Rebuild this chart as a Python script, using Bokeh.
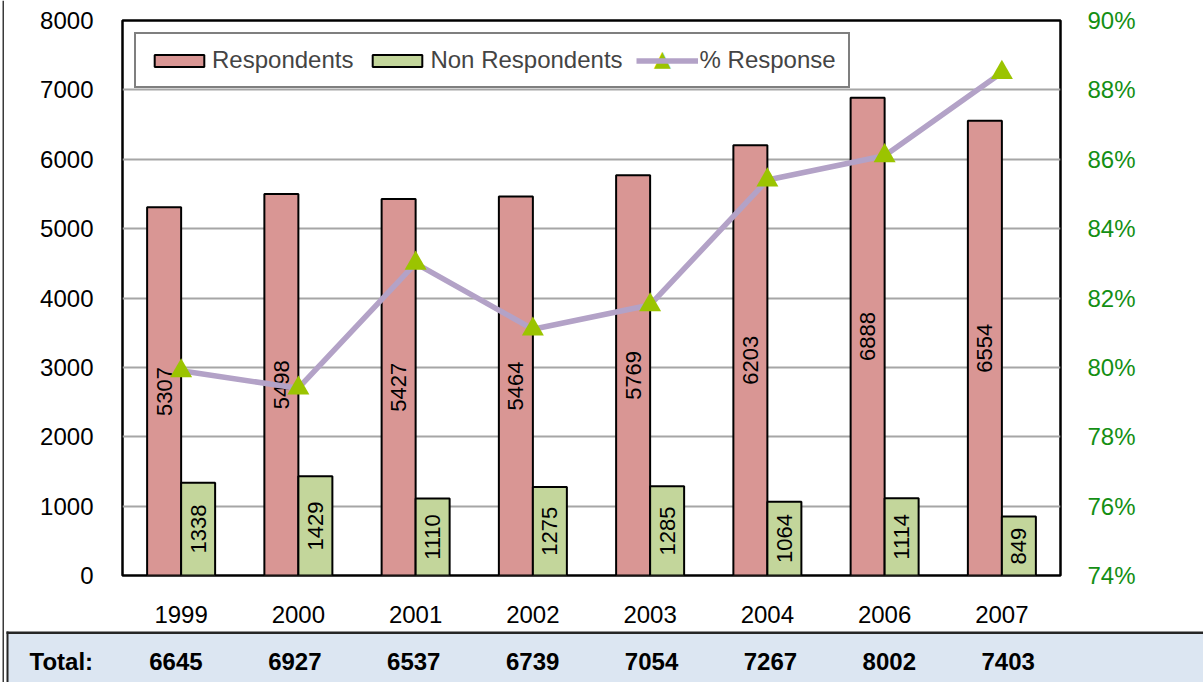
from math import pi

from bokeh.core.properties import value
from bokeh.embed import file_html
from bokeh.layouts import column, row
from bokeh.models import (BoxAnnotation, ColumnDataSource, FixedTicker, Label,
                          Legend, LegendItem, LinearAxis, PrintfTickFormatter,
                          Range1d)
from bokeh.plotting import figure
from bokeh.resources import INLINE

# ---- data -------------------------------------------------------------
years = ["1999", "2000", "2001", "2002", "2003", "2004", "2006", "2007"]
respondents = [5307, 5498, 5427, 5464, 5769, 6203, 6888, 6554]
non_respondents = [1338, 1429, 1110, 1275, 1285, 1064, 1114, 849]
pct_response = [79.9, 79.4, 83.0, 81.1, 81.8, 85.4, 86.1, 88.5]
totals = [6645, 6927, 6537, 6739, 7054, 7267, 8002, 7403]

left_ticks = [0, 1000, 2000, 3000, 4000, 5000, 6000, 7000, 8000]
right_ticks = [74, 76, 78, 80, 82, 84, 86, 88, 90]

# ---- layout / style ---------------------------------------------------
FONT = "Liberation Sans"
W, H = 1203, 682
STRIP_W = 5                      # narrow page-border strip on the left
TABLE_H = 52
CHART_W = W - STRIP_W
CHART_H = H - TABLE_H
FRAME_L, FRAME_R, FRAME_T, FRAME_B = 122, 1060, 20, 575   # page pixels
n = len(years)
unit = (FRAME_R - FRAME_L) / n   # pixels per category
BAR_W = 0.29
OFF = 0.145

PINK = "#D99694"
GREEN = "#C3D69B"
LAVENDER = "#B3A2C7"
MARKER = "#9BC400"
AXIS_GREEN = "#148F14"
TABLE_BG = "#DCE6F2"
RULE = "#262626"


def px_to_x(px):
    """Horizontal page pixel -> x data coordinate of the chart."""
    return (px - FRAME_L) / unit


def py_to_y(py):
    """Vertical page pixel -> left-axis data coordinate."""
    return (FRAME_B - py) / (FRAME_B - FRAME_T) * (left_ticks[-1] - left_ticks[0])


def no_align(fig):
    if hasattr(fig, "frame_align"):
        fig.frame_align = False


centers = [i + 0.5 for i in range(n)]
src = ColumnDataSource(dict(
    xc=centers,
    x_resp=[c - OFF for c in centers],
    x_non=[c + OFF for c in centers],
    resp=respondents,
    non=non_respondents,
    resp_mid=[v / 2 for v in respondents],
    non_mid=[v / 2 for v in non_respondents],
    resp_txt=[str(v) for v in respondents],
    non_txt=[str(v) for v in non_respondents],
    pct=pct_response,
))

# ---- main chart -------------------------------------------------------
p = figure(width=CHART_W, height=CHART_H,
           x_range=Range1d(0, n), y_range=Range1d(left_ticks[0], left_ticks[-1]),
           output_backend="svg", toolbar_location=None,
           min_border_left=FRAME_L - STRIP_W, min_border_right=W - FRAME_R,
           min_border_top=FRAME_T, min_border_bottom=CHART_H - FRAME_B)
no_align(p)
p.background_fill_color = "white"
p.border_fill_color = "white"
p.outline_line_color = "black"
p.outline_line_width = 2.5

p.extra_y_ranges = {"pct": Range1d(right_ticks[0], right_ticks[-1])}

# category axis (years)
xa = p.xaxis[0]
xa.ticker = FixedTicker(ticks=centers)
xa.major_label_overrides = {c: y for c, y in zip(centers, years)}
xa.axis_line_color = None
xa.major_tick_line_color = None
xa.minor_tick_line_color = None
xa.major_label_standoff = 24
xa.major_label_text_font = FONT
xa.major_label_text_font_size = "24px"
xa.major_label_text_color = "black"

# left value axis
ya = p.yaxis[0]
ya.ticker = FixedTicker(ticks=left_ticks)
ya.axis_line_color = None
ya.major_tick_line_color = None
ya.minor_tick_line_color = None
ya.major_label_standoff = 23
ya.major_label_text_font = FONT
ya.major_label_text_font_size = "24px"
ya.major_label_text_color = "black"

# right percentage axis
ra = LinearAxis(y_range_name="pct", ticker=FixedTicker(ticks=right_ticks),
                formatter=PrintfTickFormatter(format="%d%%"))
ra.axis_line_color = None
ra.major_tick_line_color = None
ra.minor_tick_line_color = None
ra.major_label_standoff = 21
ra.major_label_text_font = FONT
ra.major_label_text_font_size = "24px"
ra.major_label_text_color = AXIS_GREEN
p.add_layout(ra, "right")

p.add_layout(Label(x=px_to_x(1166), y=(right_ticks[0] + right_ticks[-1]) / 2,
                   y_range_name="pct", text="% Responding", angle=pi / 2,
                   text_align="center", text_baseline="middle",
                   text_font=FONT, text_font_size="24px", text_color="black"))

p.xgrid.visible = False
p.ygrid.ticker = FixedTicker(ticks=left_ticks)
p.ygrid.grid_line_color = "#A6A6A6"
p.ygrid.grid_line_width = 2

# bars
r_resp = p.vbar(x="x_resp", top="resp", width=BAR_W, source=src,
                fill_color=PINK, line_color="black", line_width=2)
r_non = p.vbar(x="x_non", top="non", width=BAR_W, source=src,
               fill_color=GREEN, line_color="black", line_width=2)

# value labels inside the bars
for xcol, ycol, tcol in (("x_resp", "resp_mid", "resp_txt"),
                         ("x_non", "non_mid", "non_txt")):
    p.text(x=xcol, y=ycol, text=tcol, source=src, angle=pi / 2,
           text_align="center", text_baseline="middle",
           text_font=value(FONT), text_font_size="22px", text_color="black")

# response rate line
r_line = p.line(x="xc", y="pct", source=src, y_range_name="pct",
                line_color=LAVENDER, line_width=5.5)
r_mark = p.scatter(x="xc", y="pct", source=src, y_range_name="pct",
                   marker="triangle", size=22, fill_color=MARKER, line_color=None)

legend = Legend(items=[
    LegendItem(label="Respondents", renderers=[r_resp]),
    LegendItem(label="Non Respondents", renderers=[r_non]),
    LegendItem(label="% Response", renderers=[r_line]),
], orientation="horizontal", location="top_left", margin=12, padding=12,
    spacing=13, label_standoff=2, glyph_width=62, glyph_height=15,
    label_text_font=FONT, label_text_font_size="24px",
    border_line_color="black", border_line_width=2,
    background_fill_alpha=0)
p.add_layout(legend)

# marker drawn on the "% Response" legend swatch
p.add_layout(Label(x=px_to_x(662), y=py_to_y(58), text="\u25B2",
                   text_align="center", text_baseline="middle",
                   text_font="DejaVu Sans", text_font_size="22px",
                   text_color=MARKER, level="overlay"))

# ---- totals row ---------------------------------------------------------
t = figure(width=CHART_W, height=TABLE_H,
           x_range=Range1d(px_to_x(STRIP_W), px_to_x(W)), y_range=Range1d(0, TABLE_H),
           output_backend="svg", toolbar_location=None, min_border=0)
no_align(t)
t.axis.visible = False
t.grid.visible = False
t.outline_line_color = None
t.background_fill_color = "white"
t.border_fill_color = "white"

t.add_layout(BoxAnnotation(left=px_to_x(7), top=TABLE_H - 2, fill_color=TABLE_BG,
                           fill_alpha=1, line_color=None, level="underlay"))
t.add_layout(BoxAnnotation(left=px_to_x(6), bottom=TABLE_H - 3.5, top=TABLE_H - 1,
                           fill_color=RULE, fill_alpha=1, line_color=None,
                           level="underlay"))
t.add_layout(BoxAnnotation(left=px_to_x(6), right=px_to_x(8), top=TABLE_H - 1,
                           fill_color=RULE, fill_alpha=1, line_color=None,
                           level="underlay"))

total_x = [0.456 + 1.014 * i for i in range(n)]
tsrc = ColumnDataSource(dict(x=total_x, y=[21] * n, txt=[str(v) for v in totals]))
t.text(x="x", y="y", text="txt", source=tsrc, text_align="center",
       text_baseline="middle", text_font=value(FONT), text_font_size="24px",
       text_font_style="bold", text_color="black")
t.add_layout(Label(x=px_to_x(29), y=21, text="Total:",
                   text_align="left", text_baseline="middle", text_font=FONT,
                   text_font_size="24px", text_font_style="bold",
                   text_color="black"))

# ---- left page border ----------------------------------------------------
s = figure(width=STRIP_W, height=H, x_range=Range1d(0, STRIP_W),
           y_range=Range1d(0, H), output_backend="svg", toolbar_location=None,
           min_border=0)
no_align(s)
s.axis.visible = False
s.grid.visible = False
s.outline_line_color = None
s.background_fill_color = "white"
s.border_fill_color = "white"
s.add_layout(BoxAnnotation(left=2, right=3.5, fill_color="#3A3A3A",
                           fill_alpha=1, line_color=None))

layout = row(s, column(p, t, spacing=0), spacing=0)
open("out.html", "w").write(file_html(layout, INLINE))
